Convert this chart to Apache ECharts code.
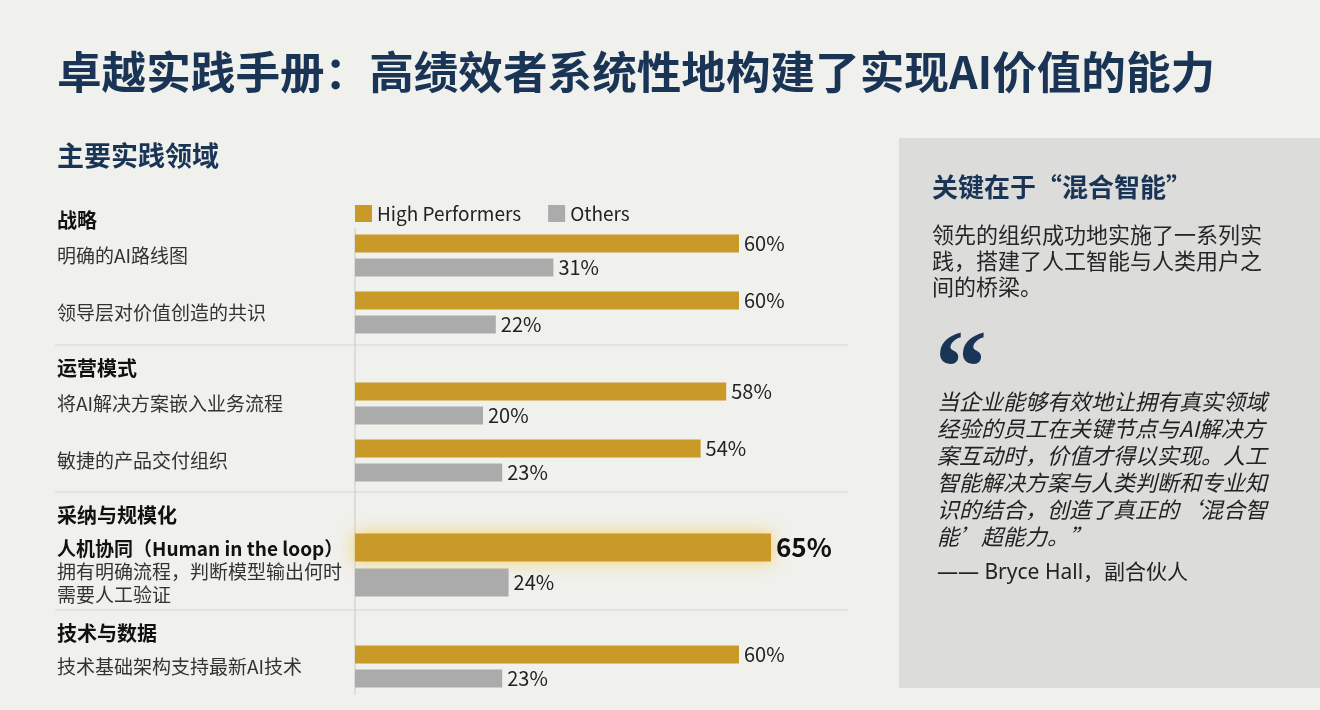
<!DOCTYPE html>
<html>
<head>
<meta charset="utf-8">
<title>卓越实践手册</title>
<script src="https://cdn.jsdelivr.net/npm/echarts@6/dist/echarts.min.js"></script>
<style>
  html, body { margin: 0; padding: 0; background: #f0f0ec; }
  #main { width: 1320px; height: 710px; }
</style>
</head>
<body>
<div id="main"></div>
<script>
// 数据
var groups = ['战略', '运营模式', '采纳与规模化', '技术与数据'];
var practices = [
  ['明确的AI路线图', '领导层对价值创造的共识'],
  ['将AI解决方案嵌入业务流程', '敏捷的产品交付组织'],
  ['人机协同（Human in the loop）\n拥有明确流程，判断模型输出何时\n需要人工验证'],
  ['技术基础架构支持最新AI技术']
];
var highPerformers = [[60, 60], [58, 54], [65], [60]];
var others = [[31, 22], [20, 23], [24], [23]];
var highlightGroup = 2;

// 布局
var FONT = "'Noto Sans CJK SC', 'Noto Sans', sans-serif";
var LATIN = "'Noto Sans', 'Noto Sans CJK SC', sans-serif";
var NAVY = '#1a3456';
var GOLD = '#c99a27';
var GRAY = '#ababab';
var AXIS_X = 355;
var gridTops = [227, 375, 530, 638];
var gridHeights = [114, 114, 70, 57];
var headerY = [220, 368, 515, 633];
var barWidths = [18, 18, 28, 18];
var barGaps = ['33%', '33%', '25%', '33%'];

var grid = [], xAxis = [], yAxis = [], series = [];

groups.forEach(function (g, i) {
  var hl = i === highlightGroup;
  grid.push({ left: AXIS_X, width: 640, top: gridTops[i], height: gridHeights[i] });
  xAxis.push({ type: 'value', gridIndex: i, min: 0, max: 100, show: false });
  yAxis.push({
    type: 'category',
    gridIndex: i,
    inverse: true,
    data: practices[i],
    axisLine: { show: false },
    axisTick: { show: false },
    axisLabel: {
      align: 'left',
      margin: AXIS_X - 57,
      fontFamily: FONT,
      fontSize: 19,
      color: '#333',
      lineHeight: 23,
      padding: hl ? [14, 0, 0, 0] : 0,
      formatter: hl ? function (v) {
        var lines = v.split('\n');
        return '{b|' + lines[0] + '}\n' + lines.slice(1).map(function (l) { return '{n|' + l + '}'; }).join('\n');
      } : null,
      rich: {
        b: { fontFamily: FONT, fontSize: 19, fontWeight: 'bold', color: '#111', lineHeight: 23 },
        n: { fontFamily: FONT, fontSize: 19, color: '#333', lineHeight: 23 }
      }
    }
  });
  series.push({
    name: 'High Performers',
    type: 'bar',
    xAxisIndex: i,
    yAxisIndex: i,
    barWidth: barWidths[i],
    barGap: barGaps[i],
    itemStyle: { color: GOLD },
    label: {
      show: true, position: 'right', distance: 5,
      formatter: '{c}%', fontFamily: FONT, fontSize: 20, color: '#222'
    },
    data: highPerformers[i].map(function (v) {
      if (!hl) return v;
      return {
        value: v,
        itemStyle: { shadowBlur: 16, shadowColor: 'rgba(247, 205, 80, 0.85)' },
        label: { fontSize: 26, fontWeight: 'bold', color: '#111' }
      };
    })
  });
  series.push({
    name: 'Others',
    type: 'bar',
    xAxisIndex: i,
    yAxisIndex: i,
    barWidth: barWidths[i],
    barGap: barGaps[i],
    itemStyle: { color: GRAY },
    label: {
      show: true, position: 'right', distance: 5,
      formatter: '{c}%', fontFamily: FONT, fontSize: 20, color: '#222'
    },
    data: others[i]
  });
});

function txt(x, y, text, size, opts) {
  opts = opts || {};
  return {
    type: 'text', x: x, y: y, silent: true,
    style: {
      text: text,
      fontFamily: opts.family || FONT,
      fontSize: size,
      fontWeight: opts.weight || 'normal',
      fontStyle: opts.style || 'normal',
      fill: opts.color || '#222',
      lineHeight: opts.lineHeight,
      verticalAlign: opts.va || 'middle'
    }
  };
}

var graphic = [
  // 右侧面板
  { type: 'rect', silent: true, shape: { x: 899, y: 138, width: 430, height: 550 },
    style: { fill: '#dcdcdb' } },
  // 分隔线
  { type: 'line', silent: true, shape: { x1: 55, y1: 345, x2: 848, y2: 345 }, style: { stroke: '#d6d6d2', lineWidth: 1 } },
  { type: 'line', silent: true, shape: { x1: 55, y1: 492, x2: 848, y2: 492 }, style: { stroke: '#d6d6d2', lineWidth: 1 } },
  { type: 'line', silent: true, shape: { x1: 55, y1: 610, x2: 848, y2: 610 }, style: { stroke: '#d6d6d2', lineWidth: 1 } },
  // 纵轴线
  { type: 'line', silent: true, shape: { x1: AXIS_X, y1: 228, x2: AXIS_X, y2: 695 }, style: { stroke: '#c9c9c6', lineWidth: 1 } },
  // 标题
  txt(57, 72, '卓越实践手册：高绩效者系统性地构建了实现AI价值的能力', 44.6, { weight: 'bold', color: NAVY }),
  txt(57, 156, '主要实践领域', 27, { weight: 'bold', color: NAVY }),
  // 右侧文字
  txt(932, 187, '关键在于“混合智能”', 26, { weight: 'bold', color: NAVY }),
  txt(932, 222, '领先的组织成功地实施了一系列实\n践，搭建了人工智能与人类用户之\n间的桥梁。', 22, { lineHeight: 26, va: 'top', color: '#262626' }),
  txt(935, 323, '“', 104, { weight: 'bold', family: "'Liberation Serif', serif", color: NAVY, va: 'top' }),
  txt(937, 388, '当企业能够有效地让拥有真实领域\n经验的员工在关键节点与AI解决方\n案互动时，价值才得以实现。人工\n智能解决方案与人类判断和专业知\n识的结合，创造了真正的‘混合智\n能’超能力。”', 22, { lineHeight: 27, va: 'top', style: 'italic', color: '#222' }),
  txt(937, 573, '—— Bryce Hall，副合伙人', 21, { family: LATIN, color: '#222' })
];

groups.forEach(function (g, i) {
  graphic.push(txt(57, headerY[i], g, 20, { weight: 'bold', color: '#111' }));
});

var option = {
  backgroundColor: '#f0f0ec',
  animation: false,
  legend: {
    left: AXIS_X,
    top: 204,
    padding: 0,
    icon: 'rect',
    itemWidth: 17,
    itemHeight: 17,
    itemGap: 27,
    data: ['High Performers', 'Others'],
    textStyle: { fontFamily: FONT, fontSize: 19, color: '#222' }
  },
  grid: grid,
  xAxis: xAxis,
  yAxis: yAxis,
  series: series,
  graphic: graphic
};

var myChart = echarts.init(document.getElementById('main'));
myChart.setOption(option);
</script>
</body>
</html>
